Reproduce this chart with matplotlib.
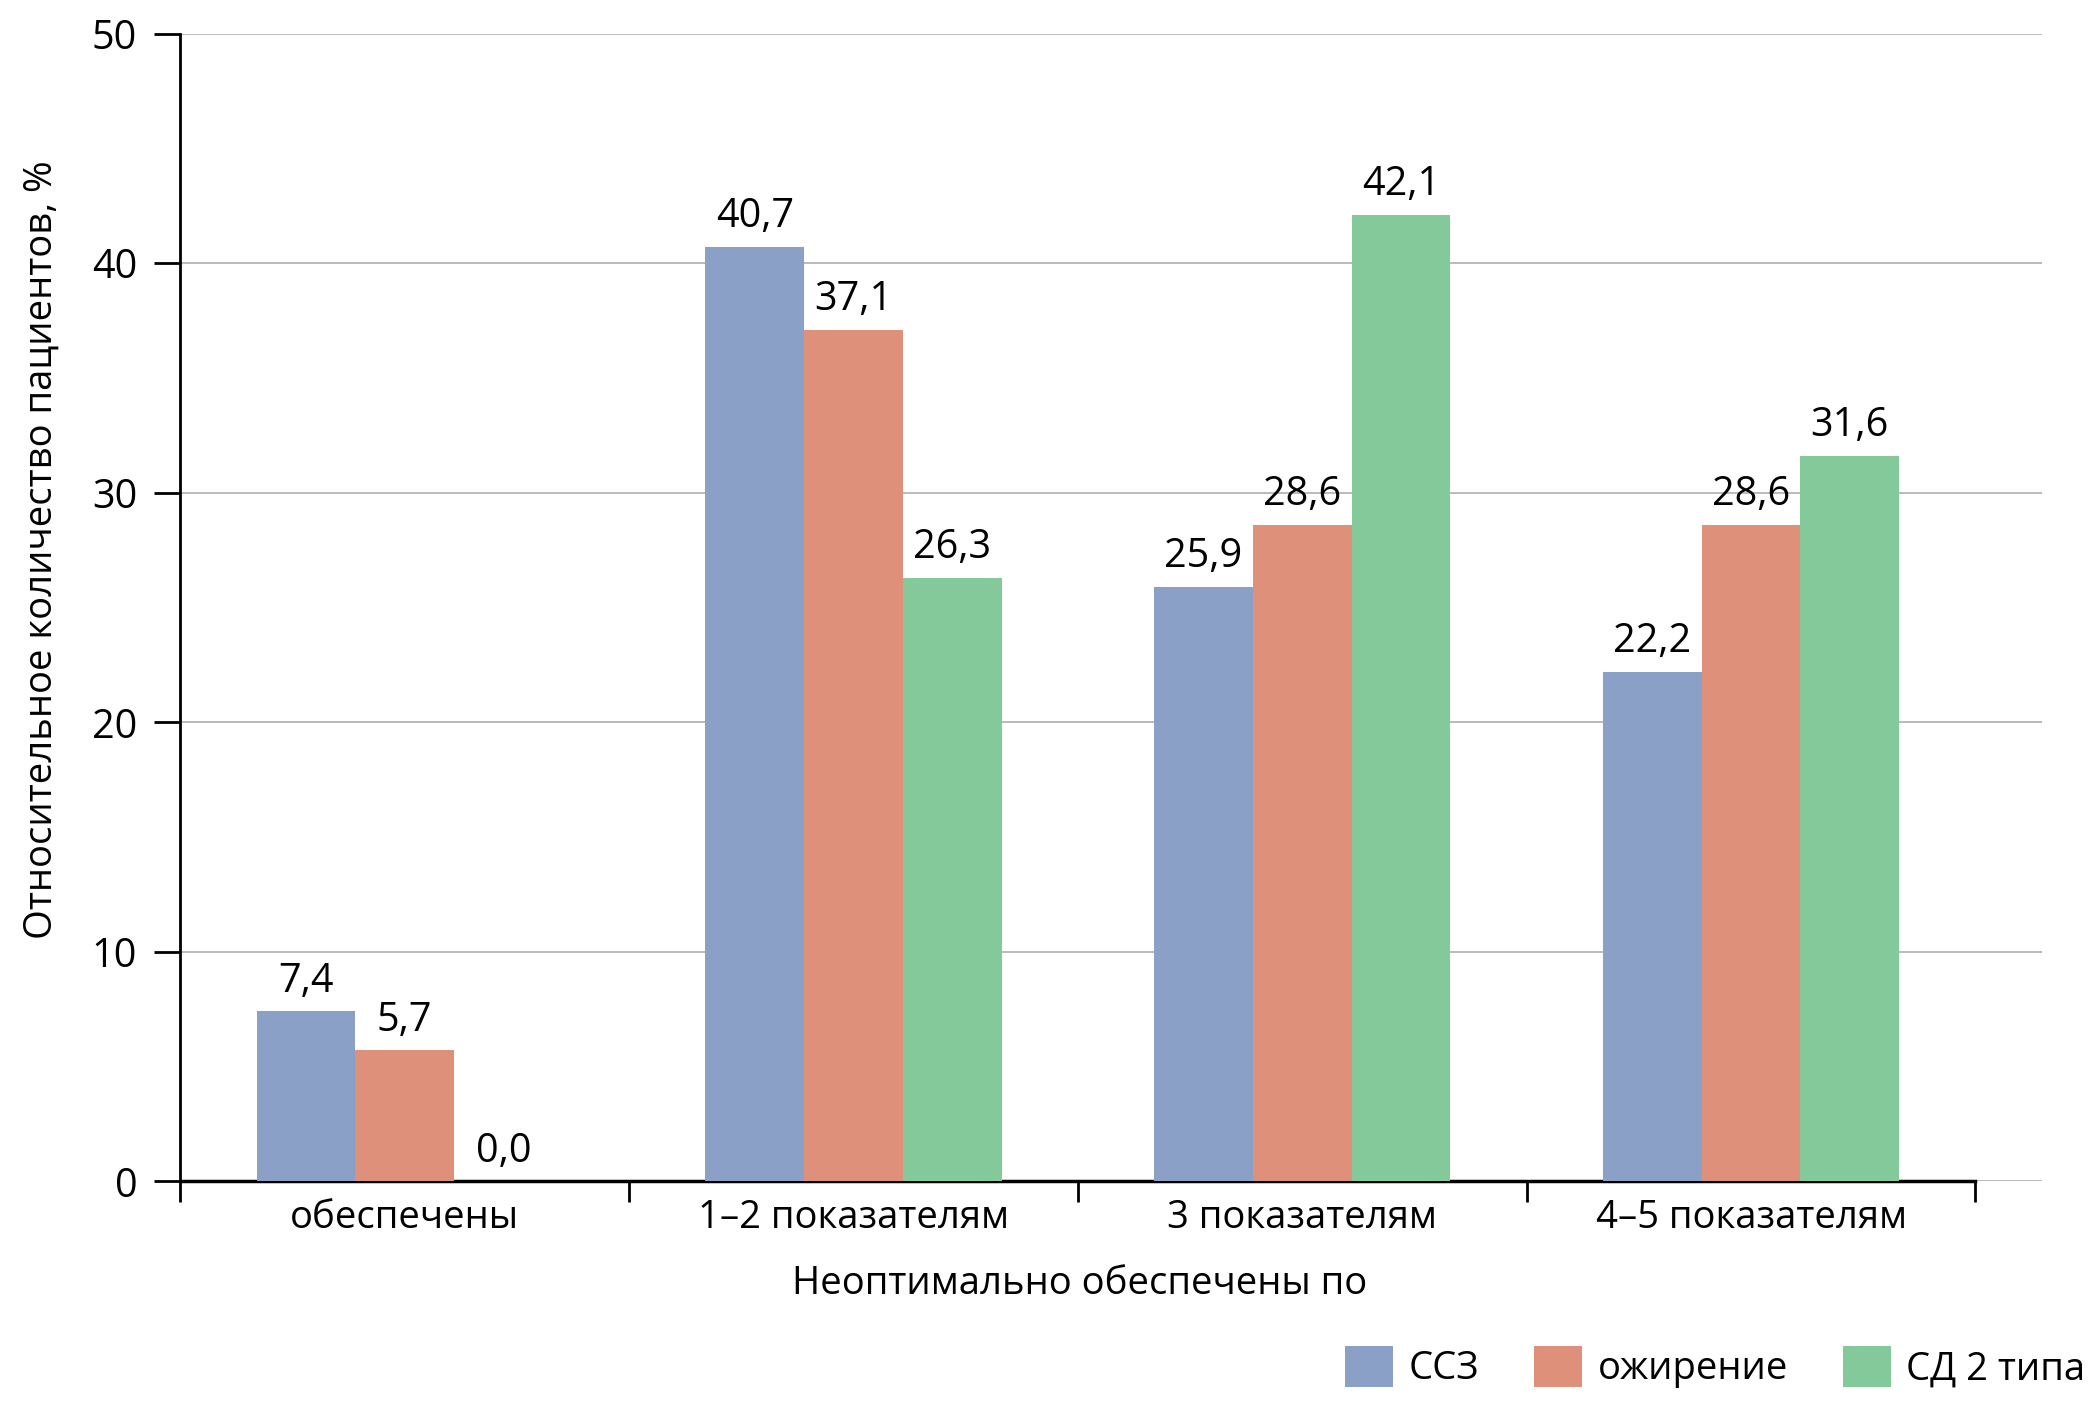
import matplotlib
matplotlib.use("Agg")
import matplotlib.pyplot as plt
import numpy as np
from matplotlib.patches import Patch

plt.rcParams["font.family"] = ["Open Sans", "DejaVu Sans"]

# data
categories = ["обеспечены", "1–2 показателям", "3 показателям", "4–5 показателям"]
series_names = ["ССЗ", "ожирение", "СД 2 типа"]
ssz = [7.4, 40.7, 25.9, 22.2]
obesity = [5.7, 37.1, 28.6, 28.6]
diabetes = [0.0, 26.3, 42.1, 31.6]
colors = ["#8ba0c6", "#df907a", "#84c99a"]
yticks = [0, 10, 20, 30, 40, 50]

FS = 28.5      # numbers
FS_TXT = 27.5  # words (Open Sans runs a bit wider than the original font)
fig = plt.figure(figsize=(20.93, 14.03), dpi=100)
ax = fig.add_axes([0.0861, 0.158, 0.8897, 0.818])

x = np.arange(len(categories))
w = 0.22
for i, (vals, col) in enumerate(zip([ssz, obesity, diabetes], colors)):
    pos = x + (i - 1) * w
    bars = ax.bar(pos, vals, width=w, color=col, linewidth=0, zorder=3)
    for b, v in zip(bars, vals):
        ax.annotate(f"{v:.1f}".replace(".", ","),
                    (b.get_x() + b.get_width() / 2, v),
                    xytext=(0, 7), textcoords="offset points",
                    ha="center", va="bottom", fontsize=FS)

ax.set_ylim(0, 50)
ax.set_xlim(-0.5, 3.649)
ax.set_yticks(yticks)
ax.set_yticklabels([str(t) for t in yticks], fontsize=FS)
ax.tick_params(axis="y", length=19, width=2, pad=12, direction="out")
ax.yaxis.grid(True, color="#a8a8a8", linewidth=1.1, zorder=0)

# group boundary ticks on the x axis, labels at group centres
ax.set_xticks(np.arange(-0.5, 4.0, 1.0))
ax.set_xticklabels([])
ax.tick_params(axis="x", which="major", length=15, width=2, direction="out")
ax.set_xticks(x, minor=True)
ax.set_xticklabels(categories, minor=True, fontsize=FS_TXT)
ax.tick_params(axis="x", which="minor", length=0, pad=13)

for s in ["top", "right"]:
    ax.spines[s].set_visible(False)
ax.spines["left"].set_linewidth(2)
ax.spines["bottom"].set_linewidth(2.5)
ax.spines["bottom"].set_bounds(-0.5, 3.5)

ax.set_xlabel("Неоптимально обеспечены по", fontsize=FS_TXT)
ax.xaxis.set_label_coords(0.4829, -0.073)
ax.set_ylabel("Относительное количество пациентов, %", fontsize=FS_TXT)
ax.yaxis.set_label_coords(-0.064, 0.55)

handles = [Patch(facecolor=c, edgecolor="none") for c in colors]
fig.legend(handles, series_names, loc="lower right", bbox_to_anchor=(1.0, 0.005),
           ncol=3, frameon=False, fontsize=FS_TXT, handlelength=1.25, handleheight=1.25,
           handletextpad=0.4, columnspacing=1.45, borderpad=0.2, borderaxespad=0)

fig.savefig("out.png", dpi=100)
